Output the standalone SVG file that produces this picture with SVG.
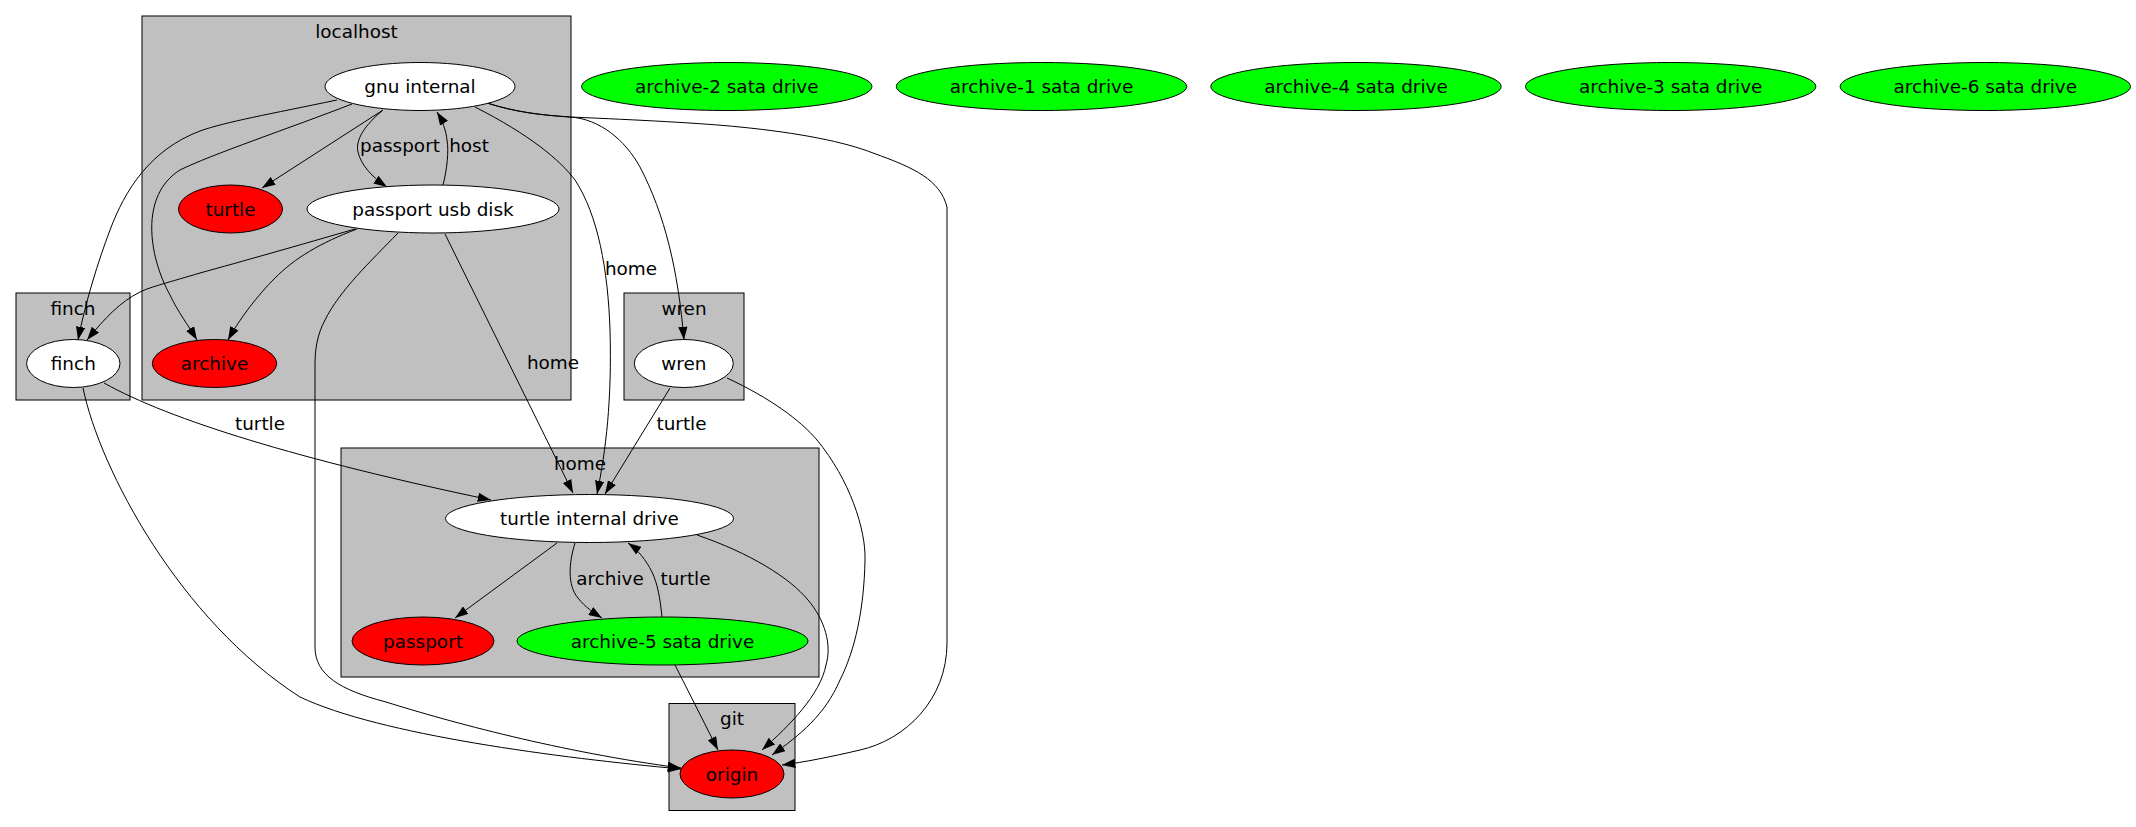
<svg xmlns="http://www.w3.org/2000/svg" width="2136" height="827" viewBox="0 0 2136 827">
<defs>
<marker id="ah" viewBox="0 0 10 7" refX="10" refY="3.5" markerWidth="13.3" markerHeight="9.3" markerUnits="userSpaceOnUse" orient="auto">
<polygon points="0,0 10,3.5 0,7" fill="#000"/>
</marker>
<style>
.cl{fill:#c0c0c0;stroke:#000;stroke-width:1}
.n{stroke:#000;stroke-width:1}
.w{fill:#fff}
.r{fill:#ff0000}
.g{fill:#00ff00}
text{font-family:"DejaVu Sans","Liberation Sans",sans-serif;font-size:18.4px;fill:#000;text-anchor:middle}
.e{fill:none;stroke:#000;stroke-width:1;marker-end:url(#ah)}
</style>
</defs>
<rect width="2136" height="827" fill="#fff"/>
<g id="cluster_localhost"><rect class="cl" x="142" y="16" width="429" height="384"/><text x="356.5" y="38">localhost</text></g>
<g id="cluster_finch"><rect class="cl" x="16" y="293" width="114" height="107"/><text x="73" y="315">finch</text></g>
<g id="cluster_wren"><rect class="cl" x="624" y="293" width="120" height="107"/><text x="684" y="315">wren</text></g>
<g id="cluster_home"><rect class="cl" x="341" y="448" width="478" height="229"/><text x="580" y="470">home</text></g>
<g id="cluster_git"><rect class="cl" x="669" y="703.5" width="126" height="107"/><text x="732" y="725">git</text></g>

<g id="edges">
<path class="e" d="M337,100 C270,114 225,122 200,131 C150,150 125,190 110,230 C98,262 86,300 78,340"/>
<path class="e" d="M352,104 C290,128 210,155 180,170 C140,195 148,255 170,295 C178,312 188,325 197,340"/>
<path class="e" d="M383,110 L262,188"/>
<path class="e" d="M382,111 C365,125 355,140 358,152 C361,165 372,177 387,187"/>
<path class="e" d="M443,185 C447,170 449,150 447,140 C446,130 442,120 437,112"/>
<path class="e" d="M475,107 C530,135 560,160 575,180 C598,215 608,270 610,330 C612,400 606,450 597,494"/>
<path class="e" d="M487,103 C515,112 540,115 570,117 C600,119 625,140 640,167 C665,215 678,270 684,340"/>
<path class="e" d="M487,103 C515,112 540,115 570,117 C640,120 700,123 740,127 C800,133 845,142 873,153 C915,168 940,180 947,207 L947,643 C947,700 905,740 860,750 C830,757 805,762 782,765"/>
<path class="e" d="M355,229 C300,245 240,262 200,273 C170,282 150,287 140,292 C120,302 105,318 87,340"/>
<path class="e" d="M357,229 C320,243 295,258 275,278 C258,295 240,318 228,340"/>
<path class="e" d="M398,233 C370,262 340,290 325,320 C317,335 315,350 315,365 L315,647 C315,675 340,690 386,702 C450,722 560,752 681,768"/>
<path class="e" d="M445,234 L573,493"/>
<path class="e" d="M104,383 C170,420 300,460 491,500"/>
<path class="e" d="M83,388 C100,470 180,620 300,697 C380,735 560,758 681,769"/>
<path class="e" d="M670,388 L605,494"/>
<path class="e" d="M727,378 C770,398 800,420 817,440 C850,480 866,530 865,560 C864,610 855,650 840,680 C825,715 800,735 772,755"/>
<path class="e" d="M557,543 L455,618"/>
<path class="e" d="M575,543 C569,562 567,585 578,598 C585,607 594,613 602,618"/>
<path class="e" d="M662,617 C660,598 658,585 652,572 C646,560 638,550 628,543"/>
<path class="e" d="M697,535 C750,553 790,578 808,600 C825,620 832,645 826,665 C820,695 790,725 762,750"/>
<path class="e" d="M675,665 L718,750"/>
<text x="400" y="152">passport</text>
<text x="469" y="152">host</text>
<text x="631" y="275">home</text>
<text x="553" y="369">home</text>
<text x="260" y="430">turtle</text>
<text x="681.5" y="430">turtle</text>
<text x="610" y="585">archive</text>
<text x="685.5" y="585">turtle</text>
</g>

<g id="n_gnu_internal"><ellipse class="n w" cx="420" cy="86.5" rx="95" ry="24"/><text x="420" y="93">gnu internal</text></g>
<g id="n_turtle"><ellipse class="n r" cx="230.5" cy="209" rx="52" ry="24"/><text x="230.5" y="215.5">turtle</text></g>
<g id="n_passport_usb_disk"><ellipse class="n w" cx="433" cy="209" rx="126" ry="24"/><text x="433" y="215.5">passport usb disk</text></g>
<g id="n_finch"><ellipse class="n w" cx="73.3" cy="363.5" rx="46.7" ry="24"/><text x="73.3" y="370">finch</text></g>
<g id="n_archive"><ellipse class="n r" cx="214.5" cy="363.5" rx="62.2" ry="24"/><text x="214.5" y="370">archive</text></g>
<g id="n_wren"><ellipse class="n w" cx="683.8" cy="363.5" rx="49.5" ry="24"/><text x="683.8" y="370">wren</text></g>
<g id="n_archive2"><ellipse class="n g" cx="726.8" cy="86.5" rx="145.2" ry="24"/><text x="726.8" y="93">archive-2 sata drive</text></g>
<g id="n_archive1"><ellipse class="n g" cx="1041.5" cy="86.5" rx="145.2" ry="24"/><text x="1041.5" y="93">archive-1 sata drive</text></g>
<g id="n_archive4"><ellipse class="n g" cx="1356" cy="86.5" rx="145.2" ry="24"/><text x="1356" y="93">archive-4 sata drive</text></g>
<g id="n_archive3"><ellipse class="n g" cx="1670.7" cy="86.5" rx="145.2" ry="24"/><text x="1670.7" y="93">archive-3 sata drive</text></g>
<g id="n_archive6"><ellipse class="n g" cx="1985.3" cy="86.5" rx="145.2" ry="24"/><text x="1985.3" y="93">archive-6 sata drive</text></g>
<g id="n_turtle_internal_drive"><ellipse class="n w" cx="589.5" cy="518.5" rx="144" ry="24"/><text x="589.5" y="525">turtle internal drive</text></g>
<g id="n_passport"><ellipse class="n r" cx="423" cy="641" rx="71" ry="24"/><text x="423" y="647.5">passport</text></g>
<g id="n_archive5"><ellipse class="n g" cx="662.5" cy="641" rx="145.5" ry="24"/><text x="662.5" y="647.5">archive-5 sata drive</text></g>
<g id="n_origin"><ellipse class="n r" cx="732" cy="774" rx="52" ry="24"/><text x="732" y="780.5">origin</text></g>
</svg>
